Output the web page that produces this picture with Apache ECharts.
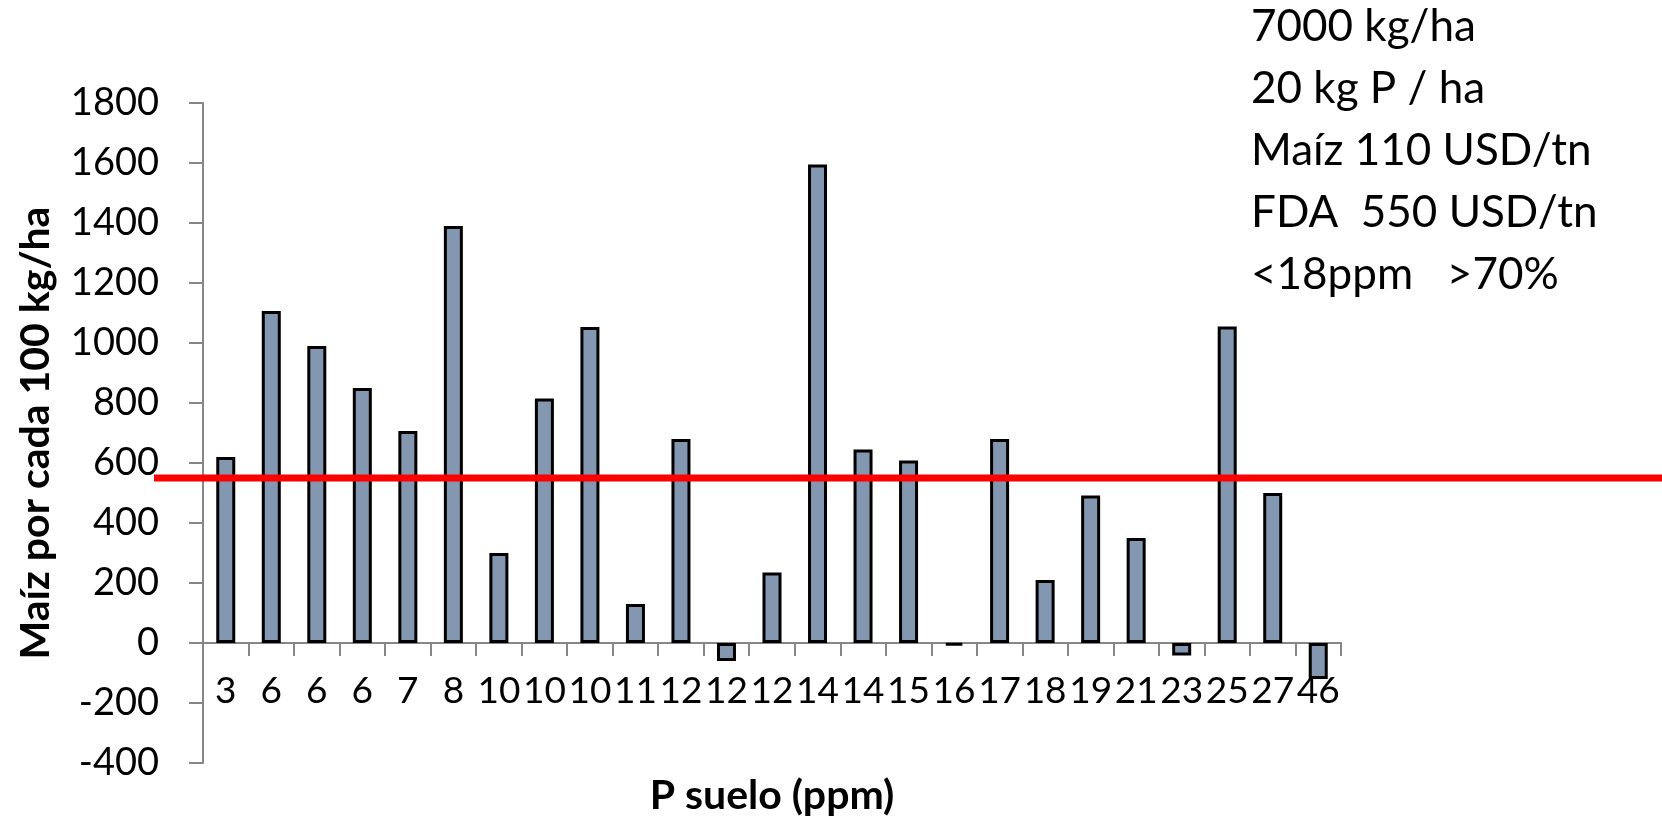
<!DOCTYPE html>
<html>
<head>
<meta charset="utf-8">
<script src="https://cdn.jsdelivr.net/npm/echarts@6.0.0/dist/echarts.min.js"></script>
<style>
	html, body { margin: 0; padding: 0; background: #fff; }
	#chart { width: 1662px; height: 823px; }
</style>
</head>
<body>
<div id="chart"></div>
<script>
	// P en suelo (ppm), una barra por sitio
	const pSuelo = ['3', '6', '6', '6', '7', '8', '10', '10', '10', '11', '12', '12', '12', '14', '14', '15', '16', '17', '18', '19', '21', '23', '25', '27', '46'];
	// Maíz por cada 100 kg/ha de FDA
	const maiz = [620, 1107, 990, 850, 707, 1390, 300, 815, 1053, 130, 680, -60, 235, 1595, 645, 608, -8, 680, 210, 492, 350, -42, 1055, 500, -120];
	// línea de equilibrio
	const umbral = [550, 550];
	const yMin = -400;
	const yMax = 1800;
	const yPaso = 200;
	const notas = ['7000 kg/ha', '20 kg P / ha', 'Maíz 110 USD/tn', 'FDA  550 USD/tn', '<18ppm   >70%'];

	const font = 'Lato';
	const gris = '#868686';

	const chart = echarts.init(document.getElementById('chart'));
	const option = {
		backgroundColor: '#fff',
		animation: false,
		textStyle: { fontFamily: font },
		grid: [
			{ left: 203, right: 321, top: 103, bottom: 60, containLabel: false, outerBoundsMode: 'none' },
			// grid solo para la línea roja, más ancha que el área de barras
			{ left: 154, right: 0, top: 103, bottom: 60, containLabel: false, outerBoundsMode: 'none' }
		],
		xAxis: [
			{
				type: 'category',
				gridIndex: 0,
				data: pSuelo,
				name: 'P suelo (ppm)',
				nameLocation: 'middle',
				nameGap: 12,
				nameMoveOverlap: false,
				nameTextStyle: { fontFamily: font, fontSize: 41, fontWeight: 'bold', color: '#000', verticalAlign: 'top' },
				axisLine: { onZero: true, lineStyle: { color: gris, width: 2 } },
				axisTick: { show: true, length: 13, inside: false, lineStyle: { color: gris, width: 2 } },
				// las etiquetas quedan al pie del grid, se suben hasta debajo del cero
				axisLabel: { interval: 0, margin: -90, fontFamily: font, fontSize: 37, color: '#000' },
				splitLine: { show: false }
			},
			{
				type: 'value',
				gridIndex: 1,
				min: 0,
				max: 1,
				show: false
			}
		],
		yAxis: [
			{
				type: 'value',
				gridIndex: 0,
				min: yMin,
				max: yMax,
				interval: yPaso,
				name: 'Maíz por cada 100 kg/ha',
				nameLocation: 'middle',
				nameGap: 147,
				nameTextStyle: { fontFamily: font, fontSize: 41, fontWeight: 'bold', color: '#000' },
				axisLine: { show: true, lineStyle: { color: gris, width: 2 } },
				axisTick: { show: true, length: 14, lineStyle: { color: gris, width: 2 } },
				axisLabel: {
					margin: 44,
					fontFamily: font,
					fontSize: 38,
					color: '#000',
					formatter: function (v) { return String(v); }
				},
				splitLine: { show: false }
			},
			{
				type: 'value',
				gridIndex: 1,
				min: yMin,
				max: yMax,
				show: false
			}
		],
		graphic: [
			{
				type: 'text',
				left: 1251,
				top: -4,
				style: {
					text: notas.join('\n'),
					fontFamily: font,
					fontSize: 44,
					lineHeight: 62,
					fill: '#000'
				}
			}
		],
		series: [
			{
				type: 'bar',
				xAxisIndex: 0,
				yAxisIndex: 0,
				data: maiz,
				barWidth: 19,
				itemStyle: {
					color: '#8497B0',
					borderColor: '#000',
					borderWidth: 3
				},
				z: 2
			},
			{
				type: 'line',
				xAxisIndex: 1,
				yAxisIndex: 1,
				data: [[0, umbral[0]], [1, umbral[1]]],
				symbol: 'none',
				lineStyle: { color: '#FF0000', width: 7 },
				z: 5
			}
		]
	};
	chart.setOption(option);
</script>
</body>
</html>
